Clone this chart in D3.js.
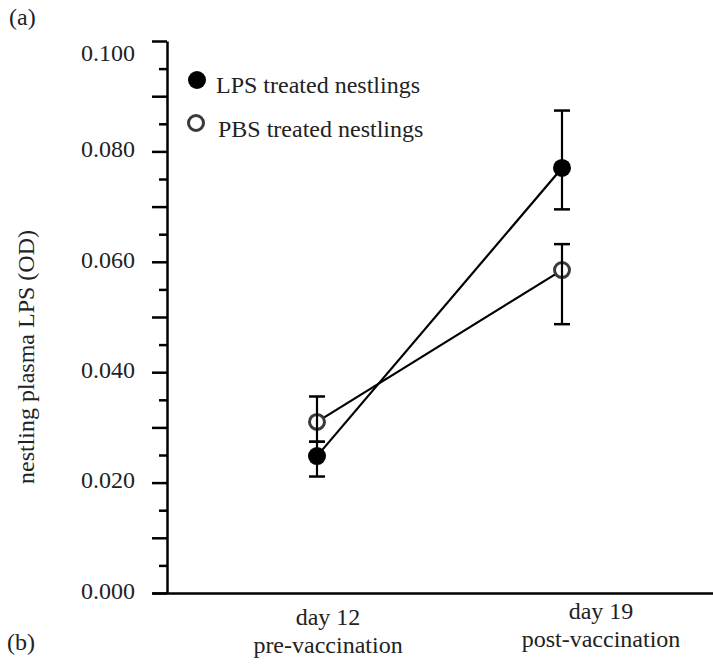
<!DOCTYPE html>
<html lang="en">
<head>
<meta charset="UTF-8">
<title>nestling plasma LPS</title>
<script src="https://d3js.org/d3.v7.min.js"></script>
<style>
  body { margin: 0; background: #fff; }
  svg { display: block; font-family: "Liberation Serif", "DejaVu Serif", serif; }
</style>
</head>
<body>
<svg></svg>
<script>
// data
const categories = ["day 12", "day 19"];
const subLabels = ["pre-vaccination", "post-vaccination"];
const lpsMean = [0.0248, 0.0770];
const lpsLow = [0.0211, 0.0695];
const lpsHigh = [0.0274, 0.0874];
const pbsMean = [0.0310, 0.0585];
const pbsLow = [0.0274, 0.0487];
const pbsHigh = [0.0356, 0.0632];
const yLabelTicks = [0, 0.02, 0.04, 0.06, 0.08, 0.1];
const yMajorTicks = [0, 0.01, 0.02, 0.03, 0.04, 0.05, 0.06, 0.07, 0.08, 0.09, 0.1];
const yMinorTicks = [0.005, 0.015, 0.025, 0.035, 0.045, 0.055, 0.065, 0.075, 0.085, 0.095];

const width = 713, height = 664;
const axisX = 167, axisTop = 41, axisBottom = 593;
const fontSize = 24;
// the category labels sit a little right of their points in the original
const labelDx = [11, 39], labelDy = [6, 0];

const svg = d3.select("svg").attr("width", width).attr("height", height);

const x = d3.scalePoint().domain(categories).range([317, 562]);
const y = d3.scaleLinear().domain([0, 0.1]).range([axisBottom, axisTop]);

// x axis line (no ticks)
svg.append("g")
  .attr("transform", `translate(0,${axisBottom})`)
  .call(d3.axisBottom(d3.scaleLinear().range([152, width])).tickValues([]).tickSizeOuter(0))
  .call(g => g.select(".domain").attr("stroke", "#000").attr("stroke-width", 2.5));

// y axis: minor ticks
svg.append("g")
  .attr("transform", `translate(${axisX},0)`)
  .call(d3.axisLeft(y).tickValues(yMinorTicks).tickSize(8).tickSizeOuter(0).tickFormat(""))
  .call(g => g.select(".domain").remove())
  .call(g => g.selectAll(".tick line").attr("stroke", "#000").attr("stroke-width", 2.5));

// y axis: major ticks + labels
svg.append("g")
  .attr("transform", `translate(${axisX},0)`)
  .call(d3.axisLeft(y).tickValues(yMajorTicks).tickSize(15).tickSizeOuter(0).tickPadding(17)
    .tickFormat(d => yLabelTicks.some(v => Math.abs(v - d) < 1e-9) ? d3.format(".3f")(d) : ""))
  .call(g => g.select(".domain").attr("stroke", "#000").attr("stroke-width", 2.5))
  .call(g => g.selectAll(".tick line").attr("stroke", "#000").attr("stroke-width", 2.5))
  .call(g => g.selectAll(".tick text")
    .attr("font-family", "Liberation Serif").attr("font-size", fontSize).attr("fill", "#222")
    .attr("dy", d => d === 0.1 ? "0.8em" : "0.22em"));

// y axis title
svg.append("text")
  .attr("transform", `translate(34,${(axisTop + axisBottom) / 2 + 40}) rotate(-90)`)
  .attr("text-anchor", "middle")
  .attr("font-size", fontSize).attr("fill", "#222")
  .text("nestling plasma LPS (OD)");

// category labels
const cat = svg.append("g").selectAll("text").data(categories).join("text")
  .attr("text-anchor", "middle")
  .attr("font-size", fontSize).attr("fill", "#222")
  .attr("x", (d, i) => x(d) + labelDx[i])
  .attr("y", (d, i) => axisBottom + 26 + labelDy[i]);
cat.append("tspan").attr("x", (d, i) => x(d) + labelDx[i]).text(d => d);
cat.append("tspan").attr("x", (d, i) => x(d) + labelDx[i]).attr("dy", 28).text((d, i) => subLabels[i]);

// panel letters
svg.append("text").attr("x", 9).attr("y", 25).attr("font-size", fontSize).attr("fill", "#222").text("(a)");
svg.append("text").attr("x", 7).attr("y", 650).attr("font-size", fontSize).attr("fill", "#222").text("(b)");

const series = [
  { mean: lpsMean, low: lpsLow, high: lpsHigh, filled: true },
  { mean: pbsMean, low: pbsLow, high: pbsHigh, filled: false }
];

const line = d3.line().x((d, i) => x(categories[i])).y(d => y(d));

// connecting lines
svg.append("g").selectAll("path").data(series).join("path")
  .attr("fill", "none").attr("stroke", "#000").attr("stroke-width", 2.2)
  .attr("d", s => line(s.mean));

// points
series.forEach(s => {
  svg.append("g").selectAll("circle").data(s.mean).join("circle")
    .attr("cx", (d, i) => x(categories[i]))
    .attr("cy", d => y(d))
    .attr("r", s.filled ? 9 : 7.5)
    .attr("fill", s.filled ? "#000" : "#fff")
    .attr("stroke", s.filled ? "none" : "#3a3a3a")
    .attr("stroke-width", 3);
});

// error bars (drawn over the open circles)
series.forEach(s => {
  const g = svg.append("g").attr("stroke", "#000");
  categories.forEach((c, i) => {
    const cx = x(c);
    g.append("line").attr("x1", cx).attr("x2", cx)
      .attr("y1", y(s.low[i])).attr("y2", y(s.high[i])).attr("stroke-width", 2.2);
    [s.low[i], s.high[i]].forEach(v => {
      g.append("line").attr("x1", cx - 8).attr("x2", cx + 8)
        .attr("y1", y(v)).attr("y2", y(v)).attr("stroke-width", 2.5);
    });
  });
});

// legend
const legend = svg.append("g");
legend.append("circle").attr("cx", 197).attr("cy", 80).attr("r", 9).attr("fill", "#000");
legend.append("circle").attr("cx", 196).attr("cy", 123).attr("r", 7.5)
  .attr("fill", "#fff").attr("stroke", "#3a3a3a").attr("stroke-width", 3);
legend.append("text").attr("x", 216).attr("y", 93).attr("font-size", fontSize).attr("fill", "#222")
  .text("LPS treated nestlings");
legend.append("text").attr("x", 218).attr("y", 137).attr("font-size", fontSize).attr("fill", "#222")
  .text("PBS treated nestlings");
</script>
</body>
</html>
